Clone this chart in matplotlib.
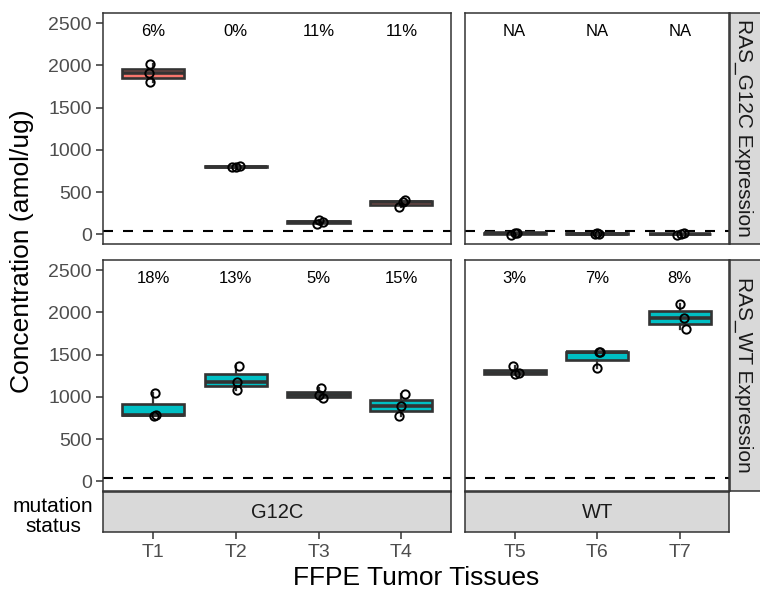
import matplotlib.pyplot as plt

plt.rcParams['font.family'] = ['Liberation Sans', 'DejaVu Sans']

# tissues per mutation status
tissues_g12c = ["T1", "T2", "T3", "T4"]
tissues_wt = ["T5", "T6", "T7"]

# RAS_G12C expression (amol/ug), three replicates per tissue
g12c_expr_g12c = [[1803, 1905, 2018], [795, 800, 808], [125, 150, 165], [325, 380, 410]]
g12c_expr_wt = [[-5, 10, 20], [0, 8, 15], [-8, 5, 12]]

# RAS_WT expression (amol/ug)
wt_expr_g12c = [[775, 790, 1045], [1075, 1180, 1370], [985, 1020, 1100], [770, 895, 1035]]
wt_expr_wt = [[1265, 1280, 1360], [1345, 1525, 1535], [1800, 1930, 2100]]

# CV labels
cv_g12c_top = ["6%", "0%", "11%", "11%"]
cv_wt_top = ["NA", "NA", "NA"]
cv_g12c_bot = ["18%", "13%", "5%", "15%"]
cv_wt_bot = ["3%", "7%", "8%"]

# small horizontal jitter of the points
jit_g12c_top = [[-0.03, -0.05, -0.04], [-0.04, 0.0, 0.05], [-0.02, 0.05, 0.0], [-0.03, 0.02, 0.04]]
jit_wt_top = [[-0.04, 0.0, 0.03], [-0.02, 0.02, 0.0], [-0.03, 0.02, 0.05]]
jit_g12c_bot = [[0.01, 0.04, 0.02], [0.02, 0.02, 0.04], [0.05, 0.0, 0.03], [-0.03, 0.0, 0.04]]
jit_wt_bot = [[0.0, 0.05, -0.02], [0.0, 0.03, 0.02], [0.08, 0.05, 0.0]]

loq = 40
yticks = [0, 500, 1000, 1500, 2000, 2500]

red = "#F8766D"
cyan = "#00BFC4"
dark = "#333333"

fig = plt.figure(figsize=(7.6, 5.92), dpi=100)

L = [0.1359, 0.4575]
R = [0.6118, 0.3478]
top_y, bot_y, ph = 0.5878, 0.1706, 0.391


def panel(rect, groups, jit, labels, fill, left):
    ax = fig.add_axes(rect)
    pos = list(range(1, len(groups) + 1))
    ax.axhline(loq, color="black", lw=1.5, linestyle=(0, (4.8, 4.8)), zorder=1)
    ax.boxplot(groups, positions=pos, widths=0.75, patch_artist=True,
               showfliers=False, showcaps=False,
               boxprops=dict(facecolor=fill, edgecolor=dark, linewidth=1.9),
               medianprops=dict(color=dark, linewidth=2.6),
               whiskerprops=dict(color=dark, linewidth=1.6), zorder=2)
    for p, vals, j in zip(pos, groups, jit):
        ax.plot([p + d for d in j], vals, "o", ms=6, mfc="none", mec="black",
                mew=1.4, zorder=3)
    for p, t in zip(pos, labels):
        ax.text(p, 2400, t, ha="center", va="center", fontsize=12, color="black")
    ax.set_xlim(0.4, len(groups) + 0.6)
    ax.set_ylim(-115, 2625)
    ax.set_xticks([])
    for s in ax.spines.values():
        s.set_color(dark)
        s.set_linewidth(1.1)
    if left:
        ax.set_yticks(yticks)
        ax.tick_params(axis="y", length=4.8, width=1.1, color=dark,
                       labelcolor="#4D4D4D", labelsize=14, pad=3.5)
    else:
        ax.set_yticks([])
    return ax


panel([L[0], top_y, L[1], ph], g12c_expr_g12c, jit_g12c_top, cv_g12c_top, red, True)
panel([R[0], top_y, R[1], ph], g12c_expr_wt, jit_wt_top, cv_wt_top, red, False)
panel([L[0], bot_y, L[1], ph], wt_expr_g12c, jit_g12c_bot, cv_g12c_bot, cyan, True)
panel([R[0], bot_y, R[1], ph], wt_expr_wt, jit_wt_bot, cv_wt_bot, cyan, False)


def strip_bottom(rect, tissues, label):
    ax = fig.add_axes(rect)
    ax.set_facecolor("#D9D9D9")
    ax.set_xlim(0.4, len(tissues) + 0.6)
    ax.set_ylim(0, 1)
    ax.set_xticks(range(1, len(tissues) + 1))
    ax.set_xticklabels(tissues)
    ax.set_yticks([])
    ax.tick_params(axis="x", length=4.8, width=1.1, color=dark,
                   labelcolor="#4D4D4D", labelsize=14, pad=3.5)
    for s in ax.spines.values():
        s.set_color(dark)
        s.set_linewidth(1.1)
    ax.text(0.5, 0.5, label, transform=ax.transAxes, ha="center", va="center",
            fontsize=14.5, color="#1A1A1A")


strip_bottom([L[0], 0.1008, L[1], 0.0681], tissues_g12c, "G12C")
strip_bottom([R[0], 0.1008, R[1], 0.0681], tissues_wt, "WT")


def strip_right(y, label):
    ax = fig.add_axes([0.9605, y, 0.0526, ph])
    ax.set_facecolor("#D9D9D9")
    ax.set_xticks([])
    ax.set_yticks([])
    for s in ax.spines.values():
        s.set_color(dark)
        s.set_linewidth(1.1)
    ax.text(0.33, 0.5, label, transform=ax.transAxes, ha="center", va="center",
            rotation=270, fontsize=15, color="#1A1A1A")


strip_right(top_y, "RAS_G12C Expression")
strip_right(bot_y, "RAS_WT Expression")

fig.text(0.029, 0.576, "Concentration (amol/ug)", rotation=90, ha="center",
         va="center", fontsize=19, color="black")
fig.text(0.547, 0.0236, "FFPE Tumor Tissues", ha="center", va="center",
         fontsize=19, color="black")
fig.text(0.0697, 0.128, "mutation\nstatus", ha="center", va="center",
         fontsize=15, color="black", linespacing=1.05)

fig.savefig("out.png", dpi=100)
